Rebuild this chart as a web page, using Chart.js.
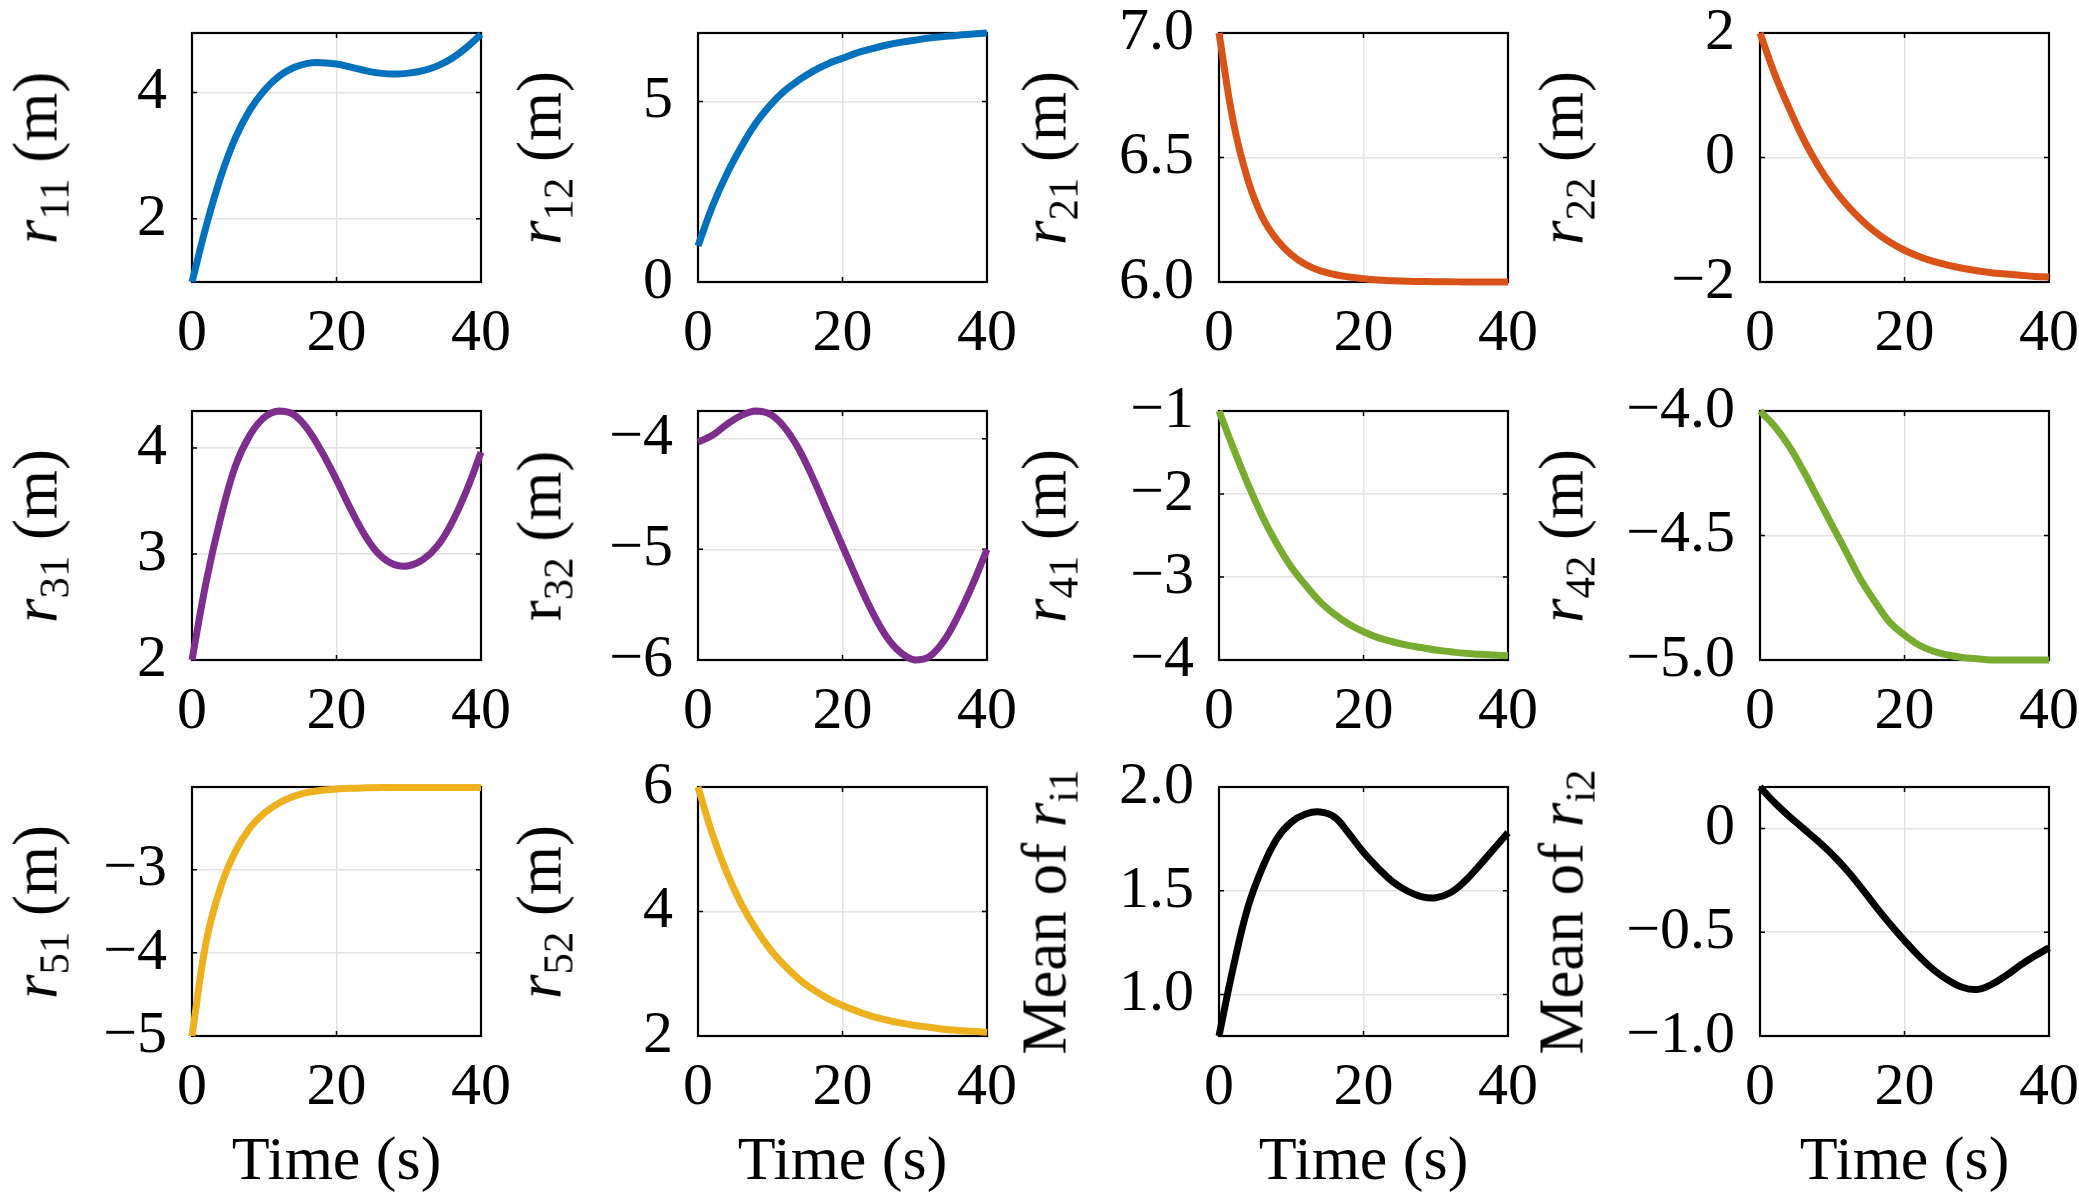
<!DOCTYPE html>
<html>
<head>
<meta charset="utf-8">
<script src="https://cdn.jsdelivr.net/npm/chart.js@4.4.1/dist/chart.umd.min.js"></script>
<style>
  html, body { margin: 0; padding: 0; background: #fff; overflow: hidden; }
  #wrap { position: relative; width: 2079px; height: 1200px; }
  #wrap canvas { position: absolute; }
  .ylab {
    position: absolute;
    font-family: 'Liberation Serif', 'Times New Roman', serif;
    font-size: 63px;
    line-height: 1;
    white-space: nowrap;
    color: #000;
    transform: translate(-50%, -50%) rotate(-90deg);
  }
  .ylab sub { font-size: 0.68em; vertical-align: -0.28em; line-height: 0; }
</style>
</head>
<body>
<div id="wrap"></div>
<script>
// time samples (s)
const TIME = [0, 2, 4, 6, 8, 10, 12, 14, 16, 18, 20, 22, 24, 26, 28, 30, 32, 34, 36, 38, 40];

// values
const R11 = [1.00, 1.90, 2.67, 3.28, 3.72, 4.03, 4.25, 4.39, 4.46, 4.47, 4.45, 4.40, 4.345, 4.305, 4.29, 4.305, 4.345, 4.42, 4.54, 4.71, 4.92];
const R12 = [1.00, 2.10, 3.00, 3.75, 4.40, 4.90, 5.30, 5.60, 5.85, 6.05, 6.20, 6.35, 6.46, 6.56, 6.64, 6.70, 6.76, 6.80, 6.84, 6.87, 6.90];
const R21 = [7.00, 6.64, 6.41, 6.26, 6.17, 6.11, 6.07, 6.045, 6.03, 6.02, 6.013, 6.008, 6.005, 6.003, 6.002, 6.001, 6.001, 6.0, 6.0, 6.0, 6.0];
const R22 = [2.00, 1.35, 0.80, 0.30, -0.12, -0.47, -0.76, -1.00, -1.20, -1.36, -1.49, -1.59, -1.67, -1.73, -1.78, -1.82, -1.85, -1.87, -1.89, -1.91, -1.92];
const R31 = [2.00, 2.75, 3.35, 3.83, 4.12, 4.29, 4.35, 4.32, 4.18, 3.96, 3.70, 3.42, 3.17, 2.99, 2.90, 2.89, 2.95, 3.08, 3.30, 3.60, 3.96];
const R32 = [-4.03, -3.97, -3.87, -3.79, -3.75, -3.78, -3.90, -4.10, -4.37, -4.67, -4.97, -5.27, -5.55, -5.78, -5.93, -6.00, -5.97, -5.83, -5.60, -5.32, -5.00];
const R41 = [-1.00, -1.45, -1.88, -2.27, -2.60, -2.88, -3.10, -3.30, -3.45, -3.57, -3.66, -3.73, -3.78, -3.82, -3.85, -3.88, -3.90, -3.92, -3.93, -3.94, -3.95];
const R42 = [-4.00, -4.06, -4.14, -4.24, -4.35, -4.46, -4.57, -4.68, -4.77, -4.85, -4.90, -4.94, -4.965, -4.98, -4.99, -4.995, -5.0, -5.0, -5.0, -5.0, -5.0];
const R51 = [-5.00, -3.85, -3.20, -2.78, -2.50, -2.32, -2.20, -2.12, -2.07, -2.045, -2.03, -2.02, -2.015, -2.012, -2.01, -2.01, -2.01, -2.01, -2.01, -2.01, -2.01];
const R52 = [6.00, 5.24, 4.62, 4.12, 3.72, 3.39, 3.13, 2.91, 2.74, 2.60, 2.49, 2.40, 2.32, 2.26, 2.21, 2.17, 2.14, 2.11, 2.09, 2.075, 2.06];
const MEAN_R1 = [0.80, 1.135, 1.42, 1.61, 1.75, 1.83, 1.87, 1.88, 1.855, 1.775, 1.685, 1.61, 1.545, 1.50, 1.472, 1.466, 1.49, 1.545, 1.62, 1.70, 1.78];
const MEAN_R2 = [0.20, 0.125, 0.06, 0.00, -0.06, -0.125, -0.20, -0.285, -0.375, -0.46, -0.54, -0.615, -0.68, -0.73, -0.765, -0.776, -0.752, -0.71, -0.66, -0.615, -0.575];

// axis limits and ticks
const X_TICKS = [0, 20, 40];
const X_LABELS = ['0', '20', '40'];
const R11_RANGE = [1, 4.94],      R11_TICKS = [2, 4],            R11_LABELS = ['2', '4'];
const R12_RANGE = [0, 6.9],       R12_TICKS = [0, 5],            R12_LABELS = ['0', '5'];
const R21_RANGE = [6, 7],         R21_TICKS = [6, 6.5, 7],       R21_LABELS = ['6.0', '6.5', '7.0'];
const R22_RANGE = [-2, 2],        R22_TICKS = [-2, 0, 2],        R22_LABELS = ['\u22122', '0', '2'];
const R31_RANGE = [2, 4.35],      R31_TICKS = [2, 3, 4],         R31_LABELS = ['2', '3', '4'];
const R32_RANGE = [-6, -3.75],    R32_TICKS = [-6, -5, -4],      R32_LABELS = ['\u22126', '\u22125', '\u22124'];
const R41_RANGE = [-4, -1],       R41_TICKS = [-4, -3, -2, -1],  R41_LABELS = ['\u22124', '\u22123', '\u22122', '\u22121'];
const R42_RANGE = [-5, -4],       R42_TICKS = [-5, -4.5, -4],    R42_LABELS = ['\u22125.0', '\u22124.5', '\u22124.0'];
const R51_RANGE = [-5, -2.005],   R51_TICKS = [-5, -4, -3],      R51_LABELS = ['\u22125', '\u22124', '\u22123'];
const R52_RANGE = [2, 6],         R52_TICKS = [2, 4, 6],         R52_LABELS = ['2', '4', '6'];
const M1_RANGE = [0.8, 2.0],      M1_TICKS = [1, 1.5, 2],        M1_LABELS = ['1.0', '1.5', '2.0'];
const M2_RANGE = [-1, 0.2],       M2_TICKS = [-1, -0.5, 0],      M2_LABELS = ['\u22121.0', '\u22120.5', '0'];

const BLUE = '#0072BD', ORANGE = '#D95319', PURPLE = '#7E2F8E', GREEN = '#77AC30', YELLOW = '#EDB120', BLACK = '#000000';

const PANELS = [
  { row: 0, col: 0, y: R11, range: R11_RANGE, ticks: R11_TICKS, labels: R11_LABELS, color: BLUE,   title: '<i>r</i><sub>11</sub> (m)' },
  { row: 0, col: 1, y: R12, range: R12_RANGE, ticks: R12_TICKS, labels: R12_LABELS, color: BLUE,   title: '<i>r</i><sub>12</sub> (m)' },
  { row: 0, col: 2, y: R21, range: R21_RANGE, ticks: R21_TICKS, labels: R21_LABELS, color: ORANGE, title: '<i>r</i><sub>21</sub> (m)' },
  { row: 0, col: 3, y: R22, range: R22_RANGE, ticks: R22_TICKS, labels: R22_LABELS, color: ORANGE, title: '<i>r</i><sub>22</sub> (m)' },
  { row: 1, col: 0, y: R31, range: R31_RANGE, ticks: R31_TICKS, labels: R31_LABELS, color: PURPLE, title: '<i>r</i><sub>31</sub> (m)' },
  { row: 1, col: 1, y: R32, range: R32_RANGE, ticks: R32_TICKS, labels: R32_LABELS, color: PURPLE, title: 'r<sub>32</sub> (m)' },
  { row: 1, col: 2, y: R41, range: R41_RANGE, ticks: R41_TICKS, labels: R41_LABELS, color: GREEN,  title: '<i>r</i><sub>41</sub> (m)' },
  { row: 1, col: 3, y: R42, range: R42_RANGE, ticks: R42_TICKS, labels: R42_LABELS, color: GREEN,  title: '<i>r</i><sub>42</sub> (m)' },
  { row: 2, col: 0, y: R51, range: R51_RANGE, ticks: R51_TICKS, labels: R51_LABELS, color: YELLOW, title: '<i>r</i><sub>51</sub> (m)' },
  { row: 2, col: 1, y: R52, range: R52_RANGE, ticks: R52_TICKS, labels: R52_LABELS, color: YELLOW, title: '<i>r</i><sub>52</sub> (m)' },
  { row: 2, col: 2, y: MEAN_R1, range: M1_RANGE, ticks: M1_TICKS, labels: M1_LABELS, color: BLACK, title: 'Mean of <i>r</i><sub>i1</sub>' },
  { row: 2, col: 3, y: MEAN_R2, range: M2_RANGE, ticks: M2_TICKS, labels: M2_LABELS, color: BLACK, title: 'Mean of <i>r</i><sub>i2</sub>' }
];

// layout of the grid of axes (pixels)
const COL_LEFT = [192, 698, 1219, 1760];
const ROW_TOP = [33, 411, 787];
const PLOT_W = 289, PLOT_H = 249;
const YAXIS_W = 160, PAD_TOP = 30, PAD_RIGHT = 40;
const XAXIS_H = [90, 90, 164];
const YLAB_X = [36, 540, 1045, 1562];

const FONT = { family: "'Liberation Serif', 'Times New Roman', serif", size: 60 };
const GRID = '#e1e1e1';

Chart.defaults.font.family = FONT.family;
Chart.defaults.color = '#000';

// black box round the axes with small inward ticks, like MATLAB's "box on"
const boxPlugin = {
  id: 'box',
  beforeDatasetsDraw(chart) {
    const { ctx, chartArea: a, scales } = chart;
    ctx.save();
    ctx.strokeStyle = '#000';
    ctx.lineWidth = 1.5;
    ctx.beginPath();
    scales.y.ticks.forEach(t => {
      const py = scales.y.getPixelForValue(t.value);
      ctx.moveTo(a.left, py); ctx.lineTo(a.left + 5, py);
      ctx.moveTo(a.right, py); ctx.lineTo(a.right - 5, py);
    });
    scales.x.ticks.forEach(t => {
      const px = scales.x.getPixelForValue(t.value);
      ctx.moveTo(px, a.bottom); ctx.lineTo(px, a.bottom - 5);
      ctx.moveTo(px, a.top); ctx.lineTo(px, a.top + 5);
    });
    ctx.stroke();
    ctx.lineWidth = 2.2;
    ctx.strokeRect(a.left, a.top, a.width, a.height);
    ctx.restore();
  }
};

const wrap = document.getElementById('wrap');

PANELS.forEach(p => {
  const xh = XAXIS_H[p.row];
  const canvas = document.createElement('canvas');
  canvas.width = YAXIS_W + PLOT_W + PAD_RIGHT;
  canvas.height = PAD_TOP + PLOT_H + xh;
  canvas.style.left = (COL_LEFT[p.col] - YAXIS_W) + 'px';
  canvas.style.top = (ROW_TOP[p.row] - PAD_TOP) + 'px';
  wrap.appendChild(canvas);

  const lab = document.createElement('div');
  lab.className = 'ylab';
  lab.innerHTML = p.title;
  lab.style.left = YLAB_X[p.col] + 'px';
  lab.style.top = (ROW_TOP[p.row] + PLOT_H / 2) + 'px';
  wrap.appendChild(lab);

  new Chart(canvas, {
    type: 'line',
    data: {
      datasets: [{
        data: TIME.map((t, i) => ({ x: t, y: p.y[i] })),
        borderColor: p.color,
        borderWidth: 7,
        pointRadius: 0,
        tension: 0.4,
        clip: false
      }]
    },
    options: {
      responsive: false,
      animation: false,
      devicePixelRatio: 1,
      layout: { padding: { top: PAD_TOP, right: PAD_RIGHT, left: 0, bottom: 0 } },
      plugins: { legend: { display: false }, tooltip: { enabled: false } },
      scales: {
        x: {
          type: 'linear',
          min: 0,
          max: 40,
          afterBuildTicks: s => { s.ticks = X_TICKS.map(v => ({ value: v })); },
          afterFit: s => { s.height = xh; s.paddingLeft = 0; s.paddingRight = 0; },
          ticks: { font: FONT, color: '#000', padding: 16, maxRotation: 0, autoSkip: false,
                   callback: (v, i) => X_LABELS[i] },
          grid: { color: GRID, lineWidth: 1.5, drawTicks: false },
          border: { display: false },
          title: { display: p.row === 2, text: 'Time (s)', color: '#000',
                   font: { family: FONT.family, size: 62 }, padding: { top: 0, bottom: 0 } }
        },
        y: {
          type: 'linear',
          min: p.range[0],
          max: p.range[1],
          afterBuildTicks: s => { s.ticks = p.ticks.map(v => ({ value: v })); },
          afterFit: s => { s.width = YAXIS_W; s.paddingTop = 0; s.paddingBottom = 0; },
          ticks: { font: FONT, color: '#000', padding: 25, autoSkip: false,
                   callback: (v, i) => p.labels[i] },
          grid: { color: GRID, lineWidth: 1.5, drawTicks: false },
          border: { display: false }
        }
      }
    },
    plugins: [boxPlugin]
  });
});
</script>
</body>
</html>
